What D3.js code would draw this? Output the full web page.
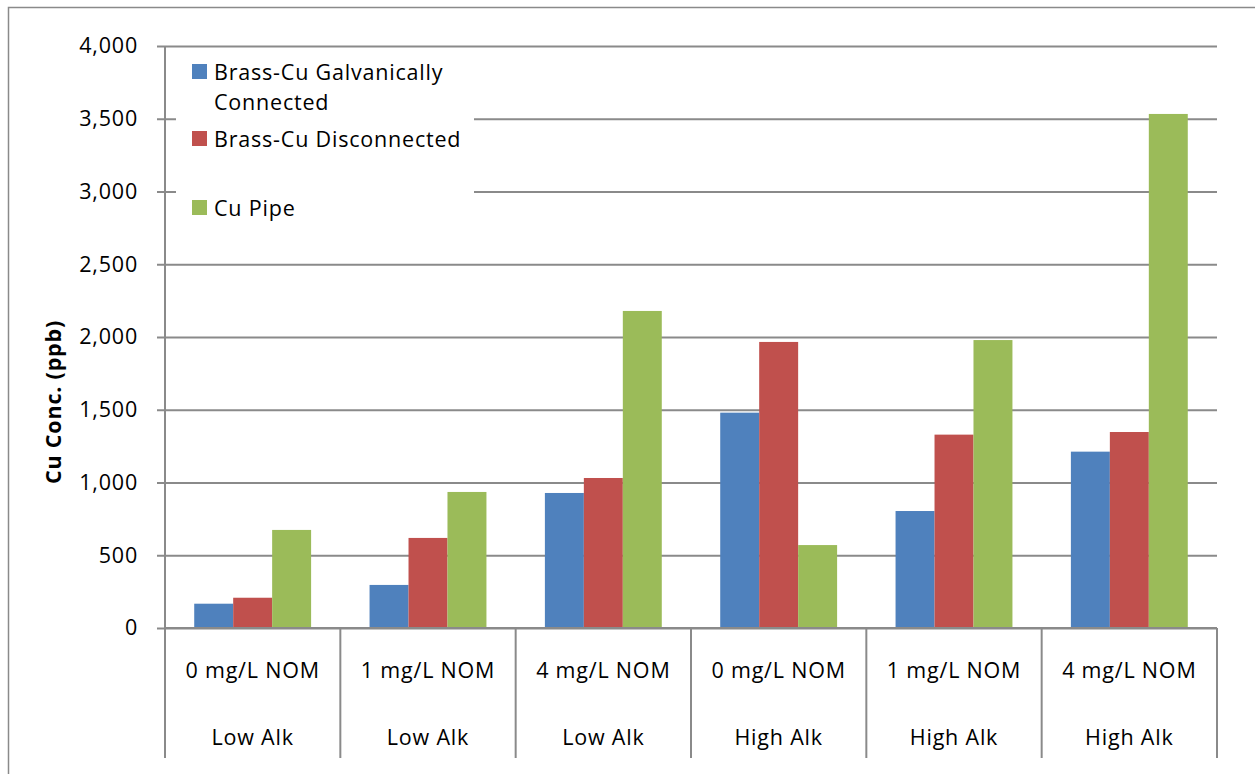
<!DOCTYPE html>
<html>
<head>
<meta charset="utf-8">
<script src="https://cdn.jsdelivr.net/npm/d3@7"></script>
<style>
  html, body { margin: 0; padding: 0; background: #fff; }
  svg { display: block; font-family: "Open Sans", Lato, "Noto Sans", sans-serif; }
  svg text { letter-spacing: 0.8px; }
</style>
</head>
<body>
<svg id="chart" width="1255" height="774"></svg>
<script>
// Copper release by pipe configuration, alkalinity and NOM level
const nomLabels = ["0 mg/L NOM", "1 mg/L NOM", "4 mg/L NOM", "0 mg/L NOM", "1 mg/L NOM", "4 mg/L NOM"];
const alkLabels = ["Low Alk", "Low Alk", "Low Alk", "High Alk", "High Alk", "High Alk"];
const seriesNames = ["Brass-Cu Galvanically Connected", "Brass-Cu Disconnected", "Cu Pipe"];
const galvanic = [167, 296, 928, 1480, 804, 1212];
const disconnected = [208, 619, 1031, 1966, 1329, 1347];
const cuPipe = [674, 935, 2179, 570, 1979, 3533];
const yTicks = [0, 500, 1000, 1500, 2000, 2500, 3000, 3500, 4000];
const colors = ["#4F81BD", "#C0504D", "#9BBB59"];

const series = [galvanic, disconnected, cuPipe];
const svg = d3.select("#chart");
const grid = "#8a8a8a";
const fs = 21.5;

const plot = { left: 165, right: 1217, top: 46, bottom: 628 };
const axisBottom = 758;

// chart frame
svg.append("path")
  .attr("d", `M8.5,774 V7.5 H1255`)
  .attr("fill", "none").attr("stroke", grid).attr("stroke-width", 1.5);

const x0 = d3.scaleBand().domain(d3.range(nomLabels.length))
  .range([plot.left, plot.right]).paddingInner(0).paddingOuter(0);
const bw = x0.bandwidth() / 4.5;
const x1 = d3.scaleBand().domain(d3.range(series.length))
  .range([bw * 0.75, bw * 0.75 + bw * 3]);
const y = d3.scaleLinear().domain([0, 4000]).range([plot.bottom, plot.top]);

// horizontal gridlines with outer ticks
const yAxis = d3.axisLeft(y).tickValues(yTicks)
  .tickSize(-(plot.right - plot.left)).tickFormat(d3.format(","));
const gy = svg.append("g").attr("transform", `translate(${plot.left},0)`).call(yAxis);
gy.select(".domain").remove();
gy.selectAll(".tick line").attr("stroke", grid).attr("stroke-width", 2).attr("x1", -8);
gy.selectAll(".tick text").attr("x", -27).attr("font-size", fs).attr("fill", "#000")
  .attr("font-family", "'Open Sans', Lato, sans-serif");

// bars
const groups = svg.append("g").selectAll("g")
  .data(nomLabels.map((_, i) => i)).join("g")
  .attr("transform", i => `translate(${x0(i)},0)`);
groups.selectAll("rect")
  .data(i => series.map((s, k) => ({ k, v: s[i] }))).join("rect")
  .attr("x", d => x1(d.k)).attr("width", x1.bandwidth())
  .attr("y", d => y(d.v)).attr("height", d => y(0) - y(d.v))
  .attr("fill", d => colors[d.k]);

// axes lines
svg.append("line").attr("x1", plot.left).attr("x2", plot.right)
  .attr("y1", plot.bottom).attr("y2", plot.bottom)
  .attr("stroke", grid).attr("stroke-width", 2);
const bounds = d3.range(nomLabels.length + 1).map(i => plot.left + i * x0.step());
svg.append("g").selectAll("line").data(bounds).join("line")
  .attr("x1", d => d).attr("x2", d => d)
  .attr("y1", (d, i) => (i === 0 ? plot.top : plot.bottom)).attr("y2", axisBottom)
  .attr("stroke", grid).attr("stroke-width", 2);

// two-level category labels
const catG = svg.append("g").attr("font-size", fs).attr("fill", "#000").attr("text-anchor", "middle");
catG.selectAll("text.nom").data(nomLabels).join("text").attr("class", "nom")
  .attr("x", (d, i) => x0(i) + x0.bandwidth() / 2).attr("y", 678).text(d => d);
catG.selectAll("text.alk").data(alkLabels).join("text").attr("class", "alk")
  .attr("x", (d, i) => x0(i) + x0.bandwidth() / 2).attr("y", 745).text(d => d);

// y axis title
svg.append("text")
  .attr("transform", "translate(61,402) rotate(-90)")
  .attr("text-anchor", "middle").attr("font-size", fs).attr("font-weight", "bold")
  .text("Cu Conc. (ppb)");

// legend
const lg = svg.append("g");
lg.append("rect").attr("x", 176).attr("y", 52).attr("width", 298).attr("height", 190).attr("fill", "#fff");
const legendRows = [
  { lines: ["Brass-Cu Galvanically", "Connected"], y: 64 },
  { lines: ["Brass-Cu Disconnected"], y: 131 },
  { lines: ["Cu Pipe"], y: 200 }
];
legendRows.forEach((r, k) => {
  lg.append("rect").attr("x", 192).attr("y", r.y).attr("width", 15).attr("height", 15).attr("fill", colors[k]);
  const t = lg.append("text").attr("x", 214).attr("y", r.y + 16).attr("font-size", fs).attr("fill", "#000");
  r.lines.forEach((ln, j) => t.append("tspan").attr("x", 214).attr("dy", j === 0 ? 0 : 30).text(ln));
});
</script>
</body>
</html>
